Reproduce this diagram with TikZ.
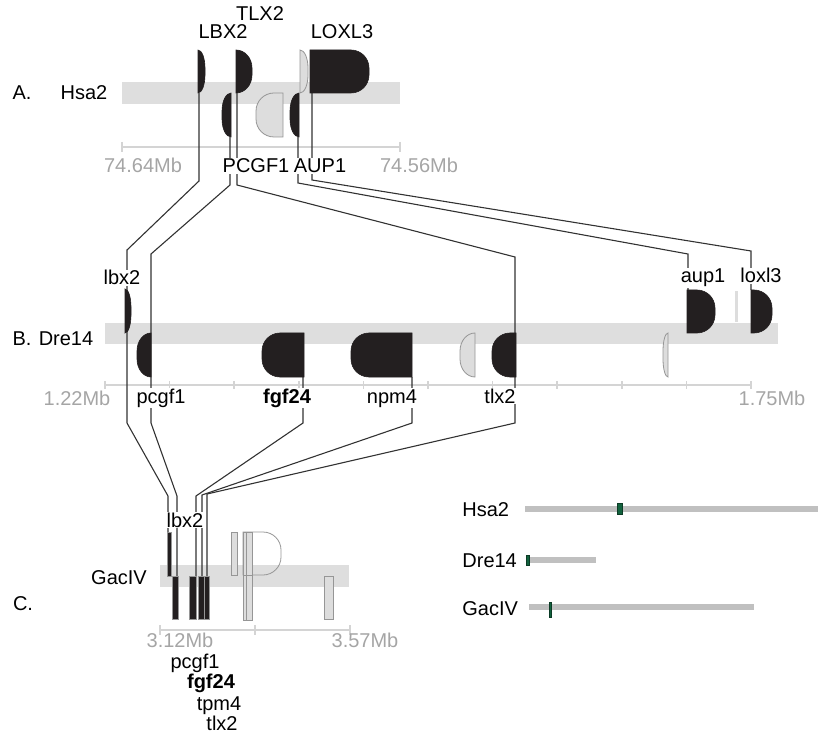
\documentclass[tikz,border=0pt]{standalone}
\usepackage{fontspec}
\setmainfont{Liberation Sans}
\usepackage{xcolor}
\definecolor{chrgray}{RGB}{222,222,222}
\definecolor{genedark}{RGB}{35,31,32}
\definecolor{genelite}{RGB}{221,221,221}
\definecolor{geneedge}{RGB}{150,150,150}
\definecolor{axisgray}{RGB}{212,212,212}
\definecolor{mbgray}{RGB}{165,165,165}
\definecolor{linkgray}{RGB}{50,50,50}
\definecolor{leggray}{RGB}{192,192,192}
\definecolor{markgreen}{RGB}{18,98,62}
\usepackage{tikz}
\usetikzlibrary{positioning}
\newcommand\lblfont{\fontsize{10}{12}\selectfont}
\tikzset{
  chrbar/.style={fill=chrgray, draw=none},
  darkgene/.style={fill=genedark, draw=genedark, line width=0.3pt},
  darkrect/.style={fill=genedark, draw=geneedge, line width=0.3pt},
  litegene/.style={fill=genelite, draw=geneedge, line width=0.4pt},
  opengene/.style={draw=geneedge, line width=0.4pt},
  linkline/.style={draw=linkgray, line width=0.55pt},
  axisline/.style={draw=axisgray, line width=0.8pt},
  mblabel/.style={anchor=base, font=\lblfont, text=mbgray, inner sep=0pt},
  genelabel/.style={anchor=base, font=\lblfont, fill=white, inner sep=0.5pt},
  chrlabel/.style={anchor=base, font=\lblfont, inner sep=0pt},
  legbar/.style={draw=leggray, line width=2.6pt},
  legmark/.style={fill=markgreen, draw=markgreen!60!black, line width=0.3pt}
}
%% gene glyphs: style, x1, y1, x2, y2 (flat side left / right)
\newcommand\geneR[5]{%
  \pgfmathsetmacro\grx{min(#4-#2,18)}%
  \path[#1] (#2,#3) -- ({#4-\grx},#3)
    arc[start angle=-90, end angle=0, x radius=\grx, y radius=18]
    -- (#4,{#5-18})
    arc[start angle=0, end angle=90, x radius=\grx, y radius=18]
    -- (#2,#5) -- cycle;}
\newcommand\geneL[5]{%
  \pgfmathsetmacro\grx{min(#4-#2,18)}%
  \path[#1] (#4,#3) -- ({#2+\grx},#3)
    arc[start angle=-90, end angle=-180, x radius=\grx, y radius=18]
    -- (#2,{#5-18})
    arc[start angle=180, end angle=90, x radius=\grx, y radius=18]
    -- (#4,#5) -- cycle;}

\begin{document}
\begin{tikzpicture}[x=0.5pt, y=-0.5pt]
  \useasboundingbox (0,0) rectangle (818,737);

  %% Chromosome bars
  \path[chrbar] (122,82) rectangle (400,104);
  \path[chrbar] (105,323) rectangle (778,344);
  \path[chrbar] (160,565) rectangle (349,587);

  %% Scale axes
  \draw[axisline] (122,147) -- (400,147);
  \draw[axisline] (122,142) -- (122,152);
  \draw[axisline] (400,142) -- (400,152);
  \draw[axisline] (105,385) -- (751,385);
  \foreach \tx in {0,...,10}
    \draw[axisline] ({105+64.6*\tx},381) -- ++(0,8);
  \draw[axisline] (160,630) -- (350,630);
  \foreach \tx in {160,255,350}
    \draw[axisline] (\tx,625) -- ++(0,10);

  %% Connection points
  \coordinate (A-LBX2)  at (199,93);
  \coordinate (A-PCGF1) at (230,137);
  \coordinate (A-TLX2)  at (237,93);
  \coordinate (A-AUP1)  at (298,137);
  \coordinate (A-LOXL3) at (312,93);
  \coordinate (B-lbx2)  at (127,333);
  \coordinate (B-pcgf1) at (151,333);
  \coordinate (B-fgf24) at (303,377);
  \coordinate (B-npm4)  at (412,377);
  \coordinate (B-tlx2)  at (515,333);
  \coordinate (B-aup1)  at (688,290);
  \coordinate (B-loxl3) at (751,290);
  \coordinate (C-lbx2)  at (168,532);
  \coordinate (C-pcgf1) at (177,576);
  \coordinate (C-fgf24) at (196,576);
  \coordinate (C-npm4)  at (202,576);
  \coordinate (C-tlx2)  at (207,576);

  %% Orthologue links
  \draw[linkline] (A-LBX2) -- (199,181) -- (127,250) -- (B-lbx2)
    -- (127,423) -- (168,496) -- (C-lbx2);
  \draw[linkline] (A-PCGF1) -- (230,185) -- (151,254) -- (B-pcgf1)
    -- (151,423) -- (177,496) -- (C-pcgf1);
  \draw[linkline] (A-TLX2) -- (237,185) -- (515,257) -- (B-tlx2)
    -- (515,423) -- (207,494) -- (C-tlx2);
  \draw[linkline] (A-AUP1) -- (298,183) -- (688,254) -- (B-aup1);
  \draw[linkline] (A-LOXL3) -- (312,180) -- (751,251) -- (B-loxl3);
  \draw[linkline] (B-fgf24) -- (303,423) -- (196,496) -- (C-fgf24);
  \draw[linkline] (B-npm4) -- (412,423) -- (202,495) -- (C-npm4);

  %% Genes, panel A
  \geneR{darkgene}{198}{50}{205}{93}
  \geneL{darkgene}{222}{93}{231}{137}
  \geneR{darkgene}{236}{50}{252}{93}
  \geneL{litegene}{256}{93}{283}{137}
  \geneL{darkgene}{290}{93}{299}{137}
  \geneR{litegene}{300}{50}{308}{93}
  \geneR{darkgene}{310}{50}{369}{93}

  %% Genes, panel B
  \geneR{darkgene}{125}{289}{131}{333}
  \geneL{darkgene}{137}{333}{151}{377}
  \geneL{darkgene}{262}{333}{304}{377}
  \geneL{darkgene}{351}{333}{412}{377}
  \geneL{litegene}{460}{333}{475}{377}
  \geneL{darkgene}{492}{333}{516}{377}
  \geneL{litegene}{663}{333}{668}{377}
  \geneR{darkgene}{687}{290}{715}{333}
  \fill[genelite] (735,291) rectangle (738,322);
  \geneR{darkgene}{751}{290}{772}{333}

  %% Genes, panel C
  \path[darkrect] (167,532) rectangle (171,576);
  \path[darkrect] (172,576) rectangle (178,619);
  \path[darkrect] (189,576) rectangle (196,619);
  \path[darkrect] (198,576) rectangle (204,619);
  \path[darkrect] (204,576) rectangle (209,619);
  \path[litegene] (231,532) rectangle (237,575);
  \geneR{opengene}{243}{532}{281}{575}
  \path[litegene] (243,532) rectangle (246,575);
  \path[litegene] (246,532) rectangle (252,575);
  \path[litegene] (243,575) rectangle (246,620);
  \path[litegene] (246,575) rectangle (252,620);
  \path[litegene] (324,576) rectangle (333,619);

  %% Panel A labels
  \node[chrlabel] (pA) at (22,100) {A.};
  \node[chrlabel] (chrA) at (84,100) {Hsa2};
  \node[genelabel] (lbLBX2) at (223,39) {LBX2};
  \node[genelabel] (lbTLX2) at (260,21) {TLX2};
  \node[genelabel] (lbLOXL3) at (342,39) {LOXL3};
  \node[genelabel] (lbPCGF1) at (256,173) {PCGF1};
  \node[genelabel] (lbAUP1) at (320,173) {AUP1};
  \node[mblabel] (mbA1) at (143,173) {74.64Mb};
  \node[mblabel] (mbA2) at (419,173) {74.56Mb};

  %% Panel B labels
  \node[chrlabel] (pB) at (22,345) {B.};
  \node[chrlabel] (chrB) at (66,345) {Dre14};
  \node[genelabel] (lblbx2) at (122,285) {lbx2};
  \node[genelabel] (lbaup1) at (703,283) {aup1};
  \node[genelabel] (lbloxl3) at (761,283) {loxl3};
  \node[genelabel] (lbpcgf1) at (161,403) {pcgf1};
  \node[genelabel, font=\lblfont\bfseries] (lbfgf24) at (287,403) {fgf24};
  \node[genelabel] (lbnpm4) at (392,403) {npm4};
  \node[genelabel] (lbtlx2) at (500,403) {tlx2};
  \node[mblabel] (mbB1) at (77,405) {1.22Mb};
  \node[mblabel] (mbB2) at (772,405) {1.75Mb};

  %% Panel C labels
  \node[chrlabel] (pC) at (23,610) {C.};
  \node[chrlabel] (chrC) at (119,584) {GacIV};
  \node[genelabel] (lcbx2) at (185,527) {lbx2};
  \node[mblabel] (mbC1) at (180,647) {3.12Mb};
  \node[mblabel] (mbC2) at (365,647) {3.57Mb};
  \node[chrlabel] (lcpcgf1) at (195,668) {pcgf1};
  \node[chrlabel, font=\lblfont\bfseries] (lcfgf24) at (211,688) {fgf24};
  \node[chrlabel] (lctpm4) at (219,710) {tpm4};
  \node[chrlabel] (lctlx2) at (222,730) {tlx2};

  %% Whole-chromosome overview
  \node[chrlabel, anchor=base west] (legHsa) at (462,516) {Hsa2};
  \draw[legbar] (525,509) -- (818,509);
  \path[legmark] (617,503) rectangle (622,514);
  \node[chrlabel, anchor=base west] (legDre) at (462,567) {Dre14};
  \draw[legbar] (526,560) -- (596,560);
  \path[legmark] (526,555) rectangle (529,565);
  \node[chrlabel, anchor=base west] (legGac) at (462,615) {GacIV};
  \draw[legbar] (529,607) -- (754,607);
  \path[legmark] (549.5,602) rectangle (551.5,617);

\end{tikzpicture}
\end{document}
